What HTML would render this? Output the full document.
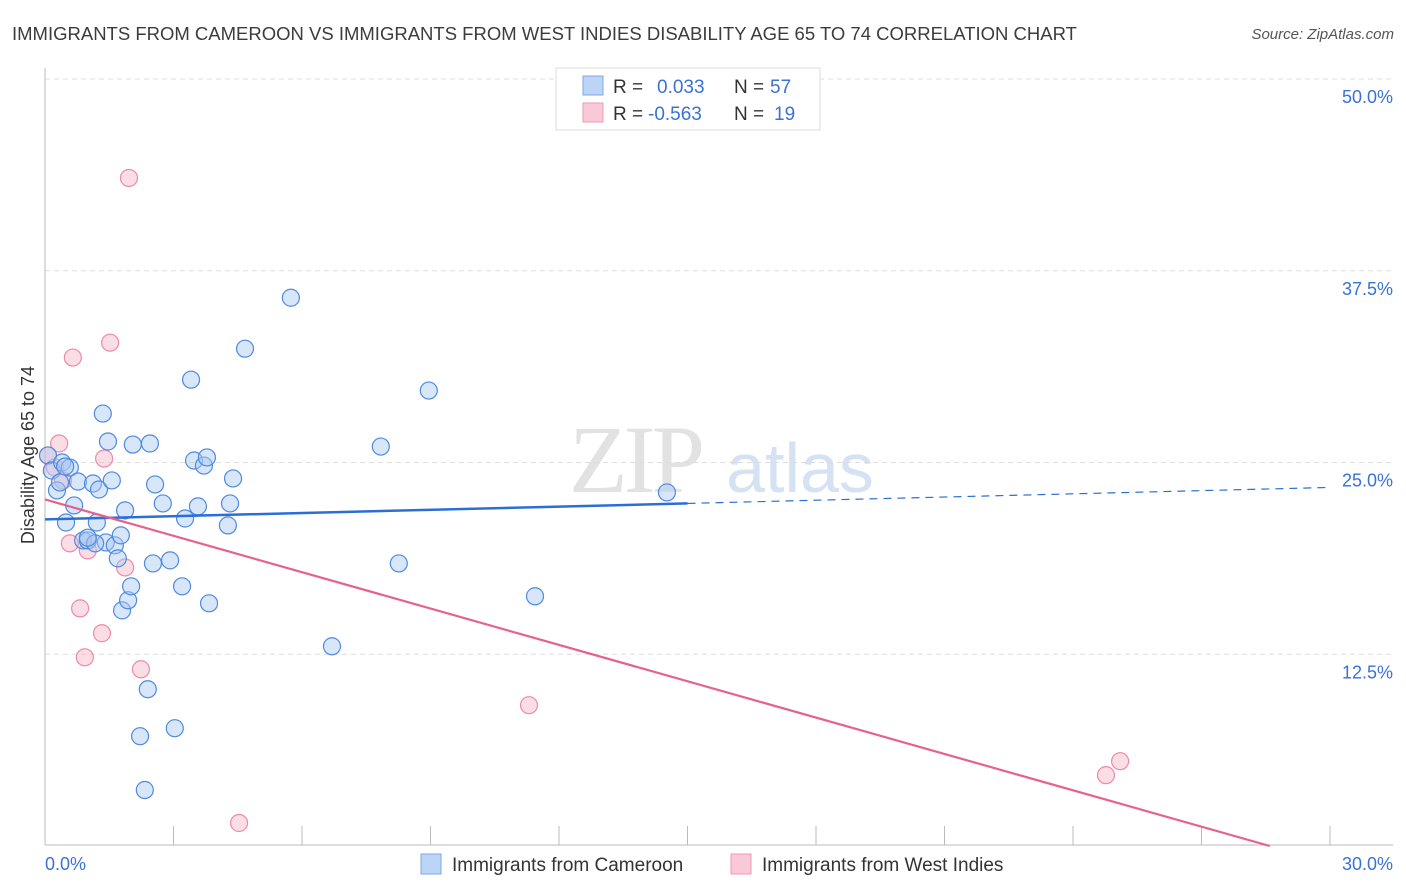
<!DOCTYPE html>
<html><head><meta charset="utf-8"><style>
body{margin:0;background:#fff;font-family:"Liberation Sans",sans-serif;}
svg{display:block}
</style></head><body>
<svg width="1406" height="892" viewBox="0 0 1406 892">
<text x="12" y="40" font-size="18.5" fill="#3c3c3c">IMMIGRANTS FROM CAMEROON VS IMMIGRANTS FROM WEST INDIES DISABILITY AGE 65 TO 74 CORRELATION CHART</text>
<text x="1394" y="39" font-size="15" fill="#555" font-style="italic" text-anchor="end">Source: ZipAtlas.com</text>
<g>
<text x="635" y="492" font-size="96" fill="#e2e2e2" font-family="Liberation Serif" text-anchor="middle" letter-spacing="-4">ZIP</text>
<text x="800" y="492" font-size="70" fill="#d5e2f4" text-anchor="middle">atlas</text>
</g>
<g id="grid"></g>
<g id="axes"></g>
<g id="marks"></g>
<text transform="translate(34,455) rotate(-90)" font-size="18" fill="#333" text-anchor="middle">Disability Age 65 to 74</text>
<g>
<rect x="556" y="68" width="264" height="62" fill="#fff" stroke="#ddd"/>
<rect x="583" y="76" width="20" height="19" fill="#bcd4f6" stroke="#7fa8e6"/>
<rect x="583" y="103" width="20" height="19" fill="#f9c9d7" stroke="#ef9ab4"/>
<text x="613" y="93" font-size="19" fill="#333">R = </text>
<text x="657" y="93" font-size="19" fill="#3a72d6">0.033</text>
<text x="734" y="93" font-size="19" fill="#333">N = </text>
<text x="770" y="93" font-size="19" fill="#3a72d6">57</text>
<text x="613" y="120" font-size="19" fill="#333">R = </text>
<text x="648" y="120" font-size="19" fill="#3a72d6">-0.563</text>
<text x="734" y="120" font-size="19" fill="#333">N = </text>
<text x="774" y="120" font-size="19" fill="#3a72d6">19</text>
</g>
<g>
<rect x="421" y="854" width="20" height="20" fill="#bcd4f6" stroke="#7fa8e6"/>
<text x="452" y="871" font-size="19" fill="#333">Immigrants from Cameroon</text>
<rect x="731" y="854" width="20" height="20" fill="#f9c9d7" stroke="#ef9ab4"/>
<text x="762" y="871" font-size="19" fill="#333">Immigrants from West Indies</text>
</g>
</svg>
<script>
const xTickLabels=["0.0%","30.0%"];
const yTicks=[12.5,25,37.5,50];
const yTickLabels=["12.5%","25.0%","37.5%","50.0%"];
const cameroonX=[.07,.16,.28,.40,.49,.58,.68,.77,.89,1.0,1.12,1.21,1.26,1.35,1.42,1.47,1.56,1.63,1.70,1.77,1.80,1.87,1.94,2.01,2.05,2.22,2.33,2.40,2.45,2.52,2.57,2.75,2.92,3.03,3.20,3.27,3.41,3.48,3.57,3.71,3.78,3.83,4.27,4.32,4.39,4.67,5.74,6.70,7.84,8.26,8.96,11.44,14.52,.35,.47,1.17,1.0];
const cameroonY=[25.46,24.48,23.18,25.0,21.09,24.67,22.2,23.76,19.92,19.92,23.63,21.09,23.24,28.19,19.79,26.37,23.83,19.6,18.75,20.25,15.36,21.88,16.02,16.93,26.17,7.16,3.65,10.22,26.24,18.42,23.57,22.33,18.62,7.68,16.93,21.35,30.4,25.13,22.14,24.8,25.33,15.82,20.9,22.33,23.96,32.42,35.74,13.02,26.04,18.42,29.69,16.28,23.05,23.7,24.74,19.73,20.1];
const westIndiesX=[.07,.23,.33,.42,.58,.65,.82,.93,1.0,1.33,1.38,1.52,1.87,1.96,2.24,4.53,11.3,24.77,25.1];
const westIndiesY=[25.46,24.67,26.24,23.83,19.73,31.84,15.49,12.3,19.27,13.87,25.26,32.81,18.16,43.55,11.52,1.5,9.18,4.62,5.53];
const cameroonTrend=[21.29,0.0695];
const westIndiesTrend=[22.59,-0.79];

const NS="http://www.w3.org/2000/svg";
const X0=45,X1=1330,Y0=846,YTOP=79;
const sx=v=>X0+(v/30)*(X1-X0);
const sy=v=>Y0-(v/50)*(Y0-YTOP);
function mk(tag,attrs,parent){const e=document.createElementNS(NS,tag);for(const k in attrs)e.setAttribute(k,attrs[k]);parent.appendChild(e);return e;}
const grid=document.getElementById('grid'),axes=document.getElementById('axes'),marks=document.getElementById('marks');
yTicks.forEach((t,i)=>{
 const l=mk('line',{x1:X0,x2:1393,y1:sy(t),y2:sy(t),stroke:'#ddd','stroke-dasharray':'5,4'},grid);
 
 
 const tx=mk('text',{x:1393,y:sy(t)+24,'font-size':18,fill:'#3a72d6','text-anchor':'end'},axes);
 tx.textContent=yTickLabels[i];
 
 
});
const ax=mk('line',{x1:X0,x2:1393,y1:845,y2:845,stroke:'#bbb'},axes);


const ay=mk('line',{x1:X0,x2:X0,y1:68,y2:845,stroke:'#bbb'},axes);


for(let i=1;i<=10;i++){const t=mk('line',{x1:sx(i*3),x2:sx(i*3),y1:826,y2:845,stroke:'#bbb'},axes);
 
 }
[[0,'start',45],[30,'end',1393]].forEach((d,i)=>{const t=mk('text',{x:d[2],y:870,'font-size':18,fill:'#3a72d6','text-anchor':d[1]},axes);t.textContent=xTickLabels[i];
 
 });
function pts(xs,ys,fill,stroke,name){xs.forEach((x,i)=>{const c=mk('circle',{cx:sx(x),cy:sy(ys[i]),r:8.5,fill:fill,stroke:stroke,'stroke-width':1.2,'fill-opacity':0.45},marks);
 
 });}
pts(westIndiesX,westIndiesY,'#f6b3c8','#ec8aa9','point-west-indies');
pts(cameroonX,cameroonY,'#a9c8f2','#4f8ae0','point-cameroon');
const f=(tr,x)=>tr[0]+tr[1]*x;
const b1=mk('line',{x1:sx(0),y1:sy(f(cameroonTrend,0)),x2:sx(15),y2:sy(f(cameroonTrend,15)),stroke:'#2b6fd6','stroke-width':2.5},marks);


const b2=mk('line',{x1:sx(15),y1:sy(f(cameroonTrend,15)),x2:sx(30),y2:sy(f(cameroonTrend,30)),stroke:'#2b6fd6','stroke-width':1.2,'stroke-dasharray':'8,6'},marks);


const xEnd=-westIndiesTrend[0]/westIndiesTrend[1];
const p1=mk('line',{x1:sx(0),y1:sy(f(westIndiesTrend,0)),x2:sx(xEnd),y2:sy(0),stroke:'#e5628e','stroke-width':2.2},marks);


</script>
</body></html>
